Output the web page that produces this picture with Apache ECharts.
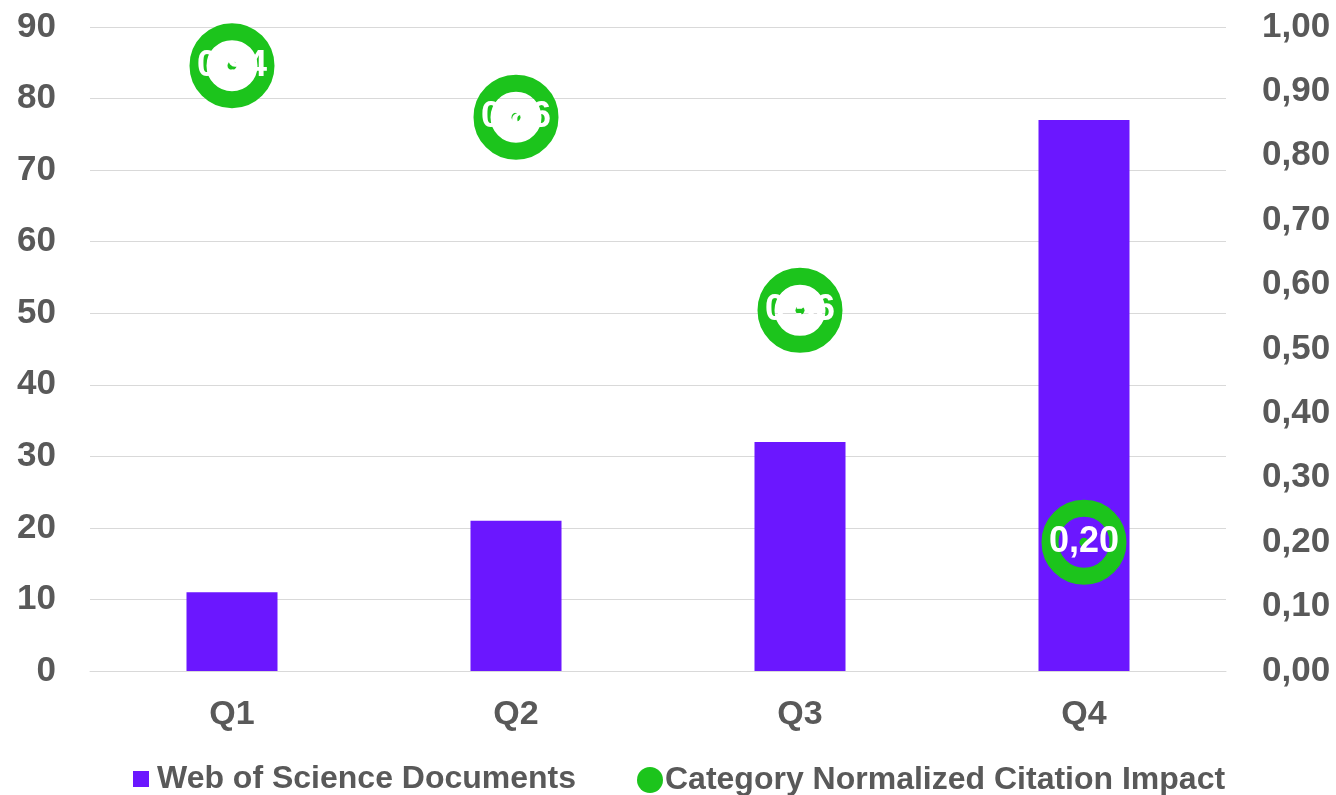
<!DOCTYPE html>
<html>
<head>
<meta charset="utf-8">
<script src="https://cdn.jsdelivr.net/npm/echarts@6/dist/echarts.min.js"></script>
<style>
html,body{margin:0;padding:0;background:#fff;}
#chart{width:1336px;height:795px;}
</style>
</head>
<body>
<div id="chart"></div>
<script>
const categories = ['Q1', 'Q2', 'Q3', 'Q4'];
const documents = [11, 21, 32, 77];
const cnci = [0.94, 0.86, 0.56, 0.20];
const leftTicks = { min: 0, max: 90, interval: 10 };
const rightTicks = { min: 0, max: 1, interval: 0.1 };

const PURPLE = '#6B17FF';
const GREEN = '#1CC41C';
const TXT = '#595959';
const FONT = '"Liberation Sans", Arial, sans-serif';
const fmtComma = v => v.toFixed(2).replace('.', ',');

const chart = echarts.init(document.getElementById('chart'));
chart.setOption({
  animation: false,
  backgroundColor: '#ffffff',
  textStyle: { fontFamily: FONT },
  grid: { left: 90, right: 110, top: 27, bottom: 124 },
  legend: [
    {
      left: 128, top: 758, itemWidth: 16, itemHeight: 16, icon: 'rect',
      data: [{ name: 'Web of Science Documents' }],
      textStyle: { color: TXT, fontSize: 32, fontWeight: 'bold', fontFamily: FONT, padding: [0, 0, 0, 3] }
    },
    {
      left: 632, top: 759, itemWidth: 26, itemHeight: 26, icon: 'circle',
      data: [{ name: 'Category Normalized Citation Impact', itemStyle: { color: GREEN, borderWidth: 0, opacity: 1 } }],
      textStyle: { color: TXT, fontSize: 32, fontWeight: 'bold', fontFamily: FONT, padding: [0, 0, 0, -3] }
    }
  ],
  xAxis: {
    type: 'category',
    data: categories,
    axisLine: { show: true, lineStyle: { color: '#d9d9d9', width: 1 } },
    axisTick: { show: false },
    axisLabel: { color: TXT, fontSize: 34, fontWeight: 'bold', fontFamily: FONT, margin: 27 }
  },
  yAxis: [
    {
      type: 'value', min: leftTicks.min, max: leftTicks.max, interval: leftTicks.interval,
      axisLine: { show: false }, axisTick: { show: false },
      splitLine: { lineStyle: { color: '#d9d9d9', width: 1 } },
      axisLabel: { color: TXT, fontSize: 35, fontWeight: 'bold', fontFamily: FONT, margin: 34 }
    },
    {
      type: 'value', min: rightTicks.min, max: rightTicks.max, interval: rightTicks.interval,
      axisLine: { show: false }, axisTick: { show: false },
      splitLine: { show: false },
      axisLabel: { color: TXT, fontSize: 35, fontWeight: 'bold', fontFamily: FONT, margin: 36, formatter: fmtComma }
    }
  ],
  series: [
    {
      name: 'Web of Science Documents',
      type: 'bar',
      data: documents,
      barWidth: 91,
      itemStyle: { color: PURPLE },
      z: 1
    },
    {
      name: 'cnci-dot',
      type: 'scatter',
      yAxisIndex: 1,
      data: cnci,
      symbol: 'circle',
      symbolSize: 9,
      itemStyle: { color: GREEN, opacity: 1 },
      silent: true,
      z: 2
    },
    {
      name: 'Category Normalized Citation Impact',
      type: 'scatter',
      yAxisIndex: 1,
      data: cnci,
      symbol: 'circle',
      symbolSize: 68,
      itemStyle: { color: 'rgba(0,0,0,0)', borderColor: GREEN, borderWidth: 17, opacity: 1 },
      label: {
        show: true, position: 'inside', color: '#ffffff',
        fontSize: 36, fontWeight: 'bold', fontFamily: FONT,
        formatter: p => fmtComma(p.value)
      },
      z: 3
    }
  ]
});
</script>
</body>
</html>
